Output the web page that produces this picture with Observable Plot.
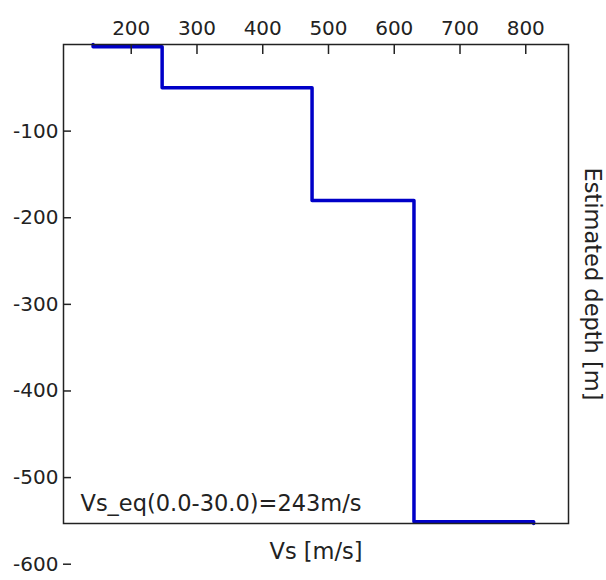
<!DOCTYPE html>
<html>
<head>
<meta charset="utf-8">
<script src="https://cdn.jsdelivr.net/npm/d3@7"></script>
<script src="https://cdn.jsdelivr.net/npm/@observablehq/plot@0.6"></script>
<style>
  html, body { margin: 0; padding: 0; background: #fff; }
</style>
</head>
<body>
<div id="chart"></div>
<script>
// Layered Vs profile (step)
const vs = [142, 247, 475, 630, 812];
const layerTop = [0, -2.5, -50, -180, -551];
const layerBottom = [-2.5, -50, -180, -551, -553];

const xTicks = [200, 300, 400, 500, 600, 700, 800];
const yTicks = [-100, -200, -300, -400, -500, -600];

const xLabel = "Vs [m/s]";
const yLabel = "Estimated depth [m]";
const note = "Vs_eq(0.0-30.0)=243m/s";

const pts = vs.flatMap((v, i) => [
  {vs: v, depth: layerTop[i]},
  {vs: v, depth: layerBottom[i]}
]);

const fmt = d => String(d);
const W = 606, H = 580, ML = 63, MR = 38, MT = 44, MB = 57;
const frameW = W - ML - MR, frameH = H - MT - MB;

const chart = Plot.plot({
  width: W,
  height: H,
  marginLeft: ML,
  marginRight: MR,
  marginTop: MT,
  marginBottom: MB,
  x: {domain: [97, 865]},
  y: {domain: [-553, 0]},
  style: {fontFamily: "DejaVu Sans", fontSize: "20px", color: "#222", background: "#fff"},
  marks: [
    Plot.line(pts, {x: "vs", y: "depth", stroke: "#0000c8", strokeWidth: 3.5}),
    Plot.frame({stroke: "#222", strokeWidth: 1.5}),
    // top x axis: labels
    Plot.axisX({anchor: "top", ticks: xTicks, tickSize: 0, tickPadding: 10, tickFormat: fmt, label: null, fontSize: 20}),
    // inward tick marks on the top edge
    Plot.ruleX(xTicks, {insetBottom: frameH - 10, stroke: "#222", strokeWidth: 1.5}),
    // left y axis: labels
    Plot.axisY({anchor: "left", ticks: yTicks, tickSize: 0, tickPadding: 5, tickFormat: fmt, label: null, fontSize: 20}),
    // inward tick marks on the left edge
    Plot.ruleY(yTicks, {insetRight: frameW - 8, stroke: "#222", strokeWidth: 1.5}),
    // axis titles and note
    Plot.text([xLabel], {frameAnchor: "bottom", dy: 35, fontSize: 22.5, fill: "#222"}),
    Plot.text([yLabel], {frameAnchor: "right", dx: 24, rotate: 90, textAnchor: "middle", fontSize: 22.5, fill: "#222"}),
    Plot.text([note], {frameAnchor: "bottom-left", dx: 17, dy: -13, textAnchor: "start", fontSize: 22.5, fill: "#222"})
  ]
});
document.getElementById("chart").appendChild(chart);
</script>
</body>
</html>
